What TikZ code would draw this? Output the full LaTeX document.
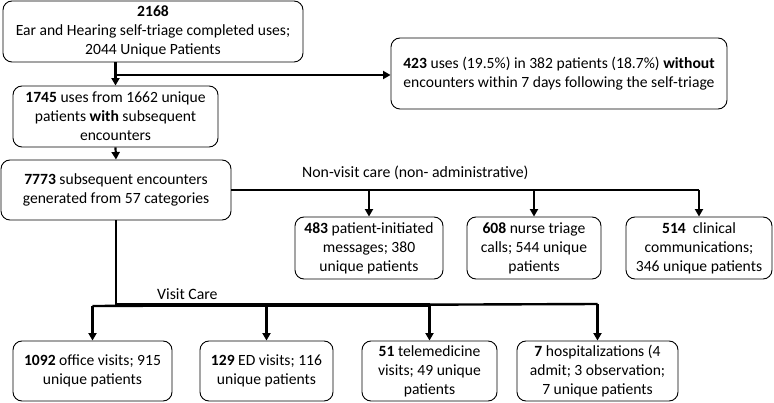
\documentclass[tikz,border=0pt]{standalone}
\usepackage{fontspec}
\setmainfont{Carlito}
\usetikzlibrary{arrows.meta}
\begin{document}
\begin{tikzpicture}[x=1pt,y=-1pt,
  box/.style={draw, rounded corners=9pt, line width=0.9pt, align=center, inner sep=1pt,
    font=\fontsize{15.6}{19}\selectfont},
  conn/.style={line width=2.8pt},
  arr/.style={line width=2.2pt, -{Triangle[length=7.5pt,width=8pt]}},
  lbl/.style={font=\fontsize{15.8}{18}\selectfont, inner sep=0pt}]
\useasboundingbox (0,0) rectangle (774,403);

% boxes
\node[box, minimum width=300pt, minimum height=61pt] (b1) at (153,31.5)
  {\textbf{2168}\\Ear and Hearing self-triage completed uses;\\2044 Unique Patients};
\node[box, minimum width=336pt, minimum height=71pt] (b2) at (559,73.5)
  {\textbf{423} uses (19.5\%) in 382 patients (18.7\%) \textbf{without}\\encounters within 7 days following the self-triage};
\node[box, minimum width=205pt, minimum height=61pt] (b3) at (115.5,116.5)
  {\textbf{1745} uses from 1662 unique\\patients \textbf{with} subsequent\\encounters};
\node[box, minimum width=230pt, minimum height=60pt] (b4) at (116,190)
  {\textbf{7773} subsequent encounters\\generated from 57 categories};

\node[box, minimum width=148pt, minimum height=62pt] (n1) at (369,248)
  {\textbf{483} patient-initiated\\messages; 380\\unique patients};
\node[box, minimum width=134pt, minimum height=62pt] (n2) at (534,248)
  {\textbf{608} nurse triage\\calls; 544 unique\\patients};
\node[box, minimum width=146pt, minimum height=62pt] (n3) at (699,248)
  {\textbf{514}\ \ clinical\\communications;\\346 unique patients};

\node[box, minimum width=159pt, minimum height=60pt] (v1) at (92.5,371)
  {\textbf{1092} office visits; 915\\unique patients};
\node[box, minimum width=133pt, minimum height=60pt] (v2) at (266.5,371)
  {\textbf{129} ED visits; 116\\unique patients};
\node[box, minimum width=135pt, minimum height=60pt] (v3) at (429.5,371)
  {\textbf{51} telemedicine\\visits; 49 unique\\patients};
\node[box, minimum width=161pt, minimum height=60pt] (v4) at (597.5,371)
  {\textbf{7} hospitalizations (4\\admit; 3 observation;\\7 unique patients};

% labels
\node[lbl, anchor=west] (lnv) at (302,173) {Non-visit care (non- administrative)};
\node[lbl, anchor=west] (lvc) at (157,294) {Visit Care};

% connectors: top part
\coordinate (j1) at (b3.north |- 0,75);
\draw[conn] (b3.north |- b1.south) -- (j1);
\draw[arr] (j1) -- (b3.north);
\draw[arr] (j1) -- (j1 -| b2.west);
\draw[arr] (b3.south) -- (b4.north);

% non-visit branch
\coordinate (nvend) at (n3.north |- b4.east);
\draw[conn] (b4.east) -- (nvend);
\draw[arr] (n1.north |- b4.east) -- (n1.north);
\draw[arr] (n2.north |- b4.east) -- (n2.north);
\draw[arr] (nvend) -- (n3.north);

% visit branch
\coordinate (vj) at (b4.south |- 0,305);
\draw[conn] (b4.south) -- (vj);
\draw[line width=2.4pt] (v1.north |- 0,306) -- (v4.north |- 0,304);
\draw[line width=4pt] (vj) -- (v3.north |- vj);
\draw[arr] (v1.north |- 0,306) -- (v1.north);
\draw[arr] (v2.north |- vj) -- (v2.north);
\draw[arr] (v3.north |- vj) -- (v3.north);
\draw[arr] (v4.north |- 0,304) -- (v4.north);
\end{tikzpicture}
\end{document}
